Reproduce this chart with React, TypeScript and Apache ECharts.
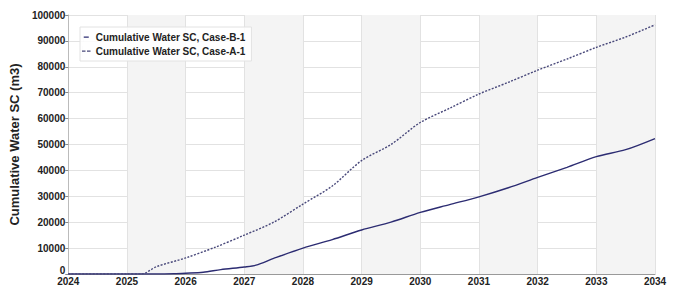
import React, { useEffect, useRef } from "react";
import * as echarts from "echarts";

const yearsB = [2024.0, 2025.0, 2025.5, 2025.8, 2026.0, 2026.3, 2026.6, 2027.0, 2027.2, 2027.5, 2028.0, 2028.5, 2029.0, 2029.5, 2030.0, 2030.5, 2031.0, 2031.5, 2032.0, 2032.5, 2033.0, 2033.5, 2034.0];
const valuesB = [0, 0, 0, 100, 300, 700, 1700, 2700, 3400, 6000, 10000, 13300, 17000, 20000, 23800, 26800, 29800, 33300, 37300, 41200, 45300, 48000, 52300];

const yearsA = [2024.0, 2025.0, 2025.25, 2025.5, 2026.0, 2026.5, 2027.0, 2027.5, 2028.0, 2028.5, 2029.0, 2029.5, 2030.0, 2030.5, 2031.0, 2031.5, 2032.0, 2032.5, 2033.0, 2033.5, 2034.0];
const valuesA = [0, 0, 0, 2800, 6200, 10300, 15000, 20000, 27000, 34000, 43800, 50000, 58500, 64000, 69500, 74000, 78700, 83000, 87500, 91500, 96200];

const seriesNames = ["Cumulative Water SC, Case-B-1", "Cumulative Water SC, Case-A-1"];
const yTitle = "Cumulative Water SC (m3)";

export default function App() {
  const ref = useRef<HTMLDivElement>(null);
  useEffect(() => {
    if (!ref.current) return;
    const chart = echarts.init(ref.current, undefined, { renderer: "svg" });
    const font = "Arial, 'Liberation Sans', sans-serif";
    chart.setOption({
      animation: false,
      backgroundColor: "#ffffff",
      grid: { left: 62, right: 22, top: 15, bottom: 14, containLabel: false },
      legend: {
        orient: "vertical",
        left: 80,
        top: 27,
        itemGap: 4,
        itemWidth: 9,
        itemHeight: 10,
        padding: [5, 6, 5, 2],
        borderColor: "#e2e2e2",
        borderWidth: 1,
        backgroundColor: "rgba(255,255,255,0.85)",
        textStyle: { fontFamily: font, fontSize: 10, fontWeight: "bold", color: "#222", padding: [0, 0, 0, 0] },
        data: [
          { name: seriesNames[0], icon: "path://M0,4.5H5V5.8H0Z M0,0H0.01V10H0Z", itemStyle: { color: "#2c2c72" } },
          { name: seriesNames[1], icon: "path://M0,4.5H3.5V5.8H0Z M5,4.5H8.5V5.8H5Z M0,0H0.01V10H0Z", itemStyle: { color: "#48487a" } },
        ],
      },
      xAxis: {
        type: "value",
        min: 2024,
        max: 2034,
        interval: 1,
        axisLine: { show: true, lineStyle: { color: "#999" } },
        axisTick: { show: false },
        axisLabel: { margin: 2, fontFamily: font, fontSize: 10, fontWeight: "bold", color: "#222", formatter: (v: number) => String(v) },
        splitLine: { show: true, lineStyle: { color: "#e2e2e2" } },
        splitArea: { show: true, areaStyle: { color: ["rgba(255,255,255,0)", "#f4f4f4"] } },
      },
      yAxis: {
        type: "value",
        min: 0,
        max: 100000,
        interval: 10000,
        name: yTitle,
        nameLocation: "middle",
        nameGap: 34,
        nameTextStyle: { fontFamily: font, fontSize: 13, fontWeight: "bold", color: "#222" },
        axisLine: { show: true, lineStyle: { color: "#bbb" } },
        axisTick: { show: true, length: 3, lineStyle: { color: "#888" } },
        axisLabel: {
          margin: 3,
          fontFamily: font,
          fontSize: 10,
          fontWeight: "bold",
          color: "#222",
          formatter: (v: number) => (v === 0 ? "{z|0}" : String(v)),
          rich: { z: { fontFamily: font, fontSize: 10, fontWeight: "bold", color: "#222", padding: [0, 0, 7, 0] } },
        },
        splitLine: { show: true, lineStyle: { color: "#e2e2e2" } },
      },
      graphic: [
        { type: "text", right: 30, bottom: 20, style: { text: "CMG", fill: "#dcdcdc", font: "bold 9px Arial" } },
      ],
      series: [
        {
          name: seriesNames[0],
          type: "line",
          showSymbol: false,
          symbol: "none",
          smooth: 0.3,
          color: "#2c2c72",
          lineStyle: { color: "#2c2c72", width: 1.4 },
          data: yearsB.map((x, i) => [x, valuesB[i]]),
        },
        {
          name: seriesNames[1],
          type: "line",
          showSymbol: false,
          symbol: "none",
          smooth: 0.3,
          color: "#48487a",
          lineStyle: { color: "#48487a", width: 1.4, type: [2, 1.5] },
          data: yearsA.map((x, i) => [x, valuesA[i]]),
        },
      ],
    });
    return () => chart.dispose();
  }, []);
  return <div ref={ref} style={{ position: "fixed", left: 0, top: 0, width: 677, height: 288 }} />;
}
